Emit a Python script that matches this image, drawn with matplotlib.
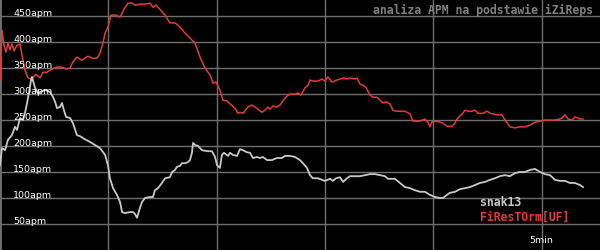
import numpy as np
import matplotlib
matplotlib.use("Agg")
import matplotlib.pyplot as plt

# APM over time (seconds)
red_t = [0, 1.1, 2.2, 3.3, 4.4, 5.5, 6.6, 7.8, 9.4, 11.1, 12.2, 13.8, 15.5, 17.7, 19.9,
         22.2, 23.8, 26.0, 28.8, 31.6, 34.3, 36.6, 38.8, 40.4, 42.6, 45.4, 48.7, 51.0,
         53.7, 55.4, 57.0, 58.2, 59.8, 61.5, 64.2, 66.5, 68.7, 70.9, 73.1, 74.8, 77.5,
         80.3, 83.1, 84.7, 86.4, 88.6, 91.4, 94.1, 96.9, 99.7, 102.5, 105.2, 108.0,
         110.8, 113.5, 116.3, 118.0, 119.6, 121.8, 123.5, 125.7, 127.4, 130.1, 131.8,
         132.9, 134.6, 137.3, 139.6, 141.2, 142.9, 145.1, 146.8, 148.4, 149.5, 151.2,
         153.4, 155.1, 156.7, 158.9, 160.6, 163.4, 165.0, 166.7, 168.9, 170.6, 171.7,
         173.3, 176.1, 178.3, 180.0, 181.6, 183.9, 186.6, 188.3, 190.5, 192.2, 193.8,
         196.6, 197.7, 199.4, 201.0, 202.7, 204.9, 206.6, 208.8, 210.4, 212.1, 213.8,
         216.0, 217.6, 219.3, 221.5, 224.3, 227.1, 228.7, 232.6, 235.4, 237.0, 238.1,
         239.2, 240.9, 243.7, 245.3, 247.5, 250.3, 252.0, 253.1, 254.7, 256.4, 257.5,
         259.2, 261.4, 263.1, 264.7, 267.5, 269.7, 271.4, 273.0, 275.2, 278.0, 279.7,
         282.4, 285.2, 288.0, 290.7, 293.5, 296.3, 299.1, 301.8, 304.6, 307.4, 310.1,
         311.2, 312.9, 314.6, 316.8, 318.4, 320.1, 321.2, 322.9]
red_apm = [327, 423, 394, 381, 398, 385, 396, 383, 394, 396, 375, 346, 331, 329, 338,
           331, 342, 342, 348, 352, 352, 348, 350, 362, 371, 365, 373, 369,
           369, 379, 398, 417, 429, 452, 452, 448, 463, 475, 475, 471, 473,
           473, 475, 467, 471, 463, 452, 437, 437, 429, 417, 408, 398,
           371, 350, 337, 321, 323, 308, 288, 287, 281, 273, 263,
           265, 263, 275, 279, 275, 271, 265, 269, 275, 271, 277,
           275, 279, 287, 296, 300, 300, 302, 298, 312, 317, 327,
           325, 325, 329, 325, 333, 323, 327, 329, 331, 329, 331,
           329, 331, 319, 317, 313, 298, 294, 294, 288, 283, 285,
           281, 269, 267, 267, 267, 262, 248, 248, 252, 246, 237,
           246, 248, 246, 244, 238, 238, 244, 252, 258, 263, 269,
           267, 267, 269, 263, 263, 267, 263, 262, 260, 260, 250,
           237, 235, 237, 237, 240, 246, 248, 250, 250, 250, 252,
           254, 260, 252, 250, 256, 254, 252, 252]

grey_t = [0, 1.1, 2.8, 4.4, 6.6, 8.3, 9.4, 11.1, 12.7, 13.8, 15.0, 16.1, 17.2, 17.7,
          19.4, 21.0, 22.2, 24.9, 27.7, 29.4, 30.5, 31.6, 33.2, 34.3, 35.4, 36.6, 38.8,
          40.4, 42.6, 44.3, 47.1, 49.8, 52.6, 55.4, 58.2, 59.8, 60.9, 62.6, 64.8, 66.5,
          67.6, 69.2, 72.0, 73.7, 74.8, 75.9, 77.5, 78.6, 80.3, 83.1, 84.7, 85.8, 87.5,
          89.7, 91.4, 94.1, 95.3, 96.9, 98.0, 99.7, 100.8, 102.5, 104.1, 105.2, 106.3,
          106.9, 108.0, 109.7, 111.9, 115.2, 117.4, 119.1, 120.2, 121.8, 122.9, 124.0,
          126.3, 127.4, 129.0, 131.3, 132.9, 134.6, 136.8, 138.5, 140.1, 142.3, 144.0,
          145.6, 147.9, 150.6, 153.4, 156.2, 157.8, 160.6, 163.4, 166.1, 167.8, 170.0,
          171.7, 173.3, 176.1, 178.3, 180.0, 182.8, 184.4, 186.1, 188.3, 190.0, 192.2,
          193.8, 199.4, 202.1, 204.9, 207.7, 210.4, 213.2, 214.9, 218.7, 221.5, 224.3,
          227.1, 229.8, 232.6, 235.4, 238.1, 240.9, 243.7, 245.3, 247.5, 249.2, 252.0,
          254.7, 257.5, 260.3, 263.1, 265.8, 268.6, 271.4, 274.1, 276.9, 279.7, 282.4,
          285.2, 288.0, 290.7, 293.5, 296.3, 299.1, 301.8, 304.6, 307.4, 310.1, 312.9,
          315.7, 318.4, 321.2, 322.9]
grey_apm = [163, 196, 192, 212, 221, 237, 231, 254, 250, 263, 283, 304, 327, 333,
            312, 302, 304, 308, 304, 294, 285, 273, 275, 283, 269, 256, 254,
            244, 221, 219, 213, 208, 202, 196, 183, 163, 138, 119, 106, 92,
            73, 71, 73, 73, 69, 62, 81, 92, 100, 102, 102, 115, 119,
            129, 138, 140, 150, 154, 160, 162, 167, 167, 169, 173, 187,
            206, 202, 200, 192, 190, 190, 179, 163, 158, 183, 187,
            181, 187, 183, 181, 194, 192, 188, 187, 177, 179, 177,
            179, 173, 173, 177, 177, 181, 181, 179, 173, 167, 158,
            144, 138, 138, 135, 133, 137, 133, 138, 140, 131, 138,
            142, 142, 144, 146, 146, 144, 142, 137, 137, 129, 121,
            119, 115, 112, 112, 106, 102, 100, 100, 106, 110, 112,
            117, 119, 121, 125, 129, 131, 135, 138, 142, 144, 142,
            148, 150, 150, 154, 156, 150, 146, 144, 135, 133, 133,
            129, 129, 125, 121]

y_ticks = [50, 100, 150, 200, 250, 300, 350, 400, 450]
x_grid = [60, 120, 180, 240, 300]
players = ["snak13", "FiResTOrm[UF]"]

red = "#e03c3c"
light = "#c8c8c8"
gridc = "#707070"

fig = plt.figure(figsize=(6, 2.5), dpi=100, facecolor="black")
ax = fig.add_axes([0, 0, 1, 1], facecolor="black")
ax.set_xlim(0, 332.3)
ax.set_ylim(0, 481)

for v in y_ticks:
    ax.axhline(v, color=gridc, lw=1.0, zorder=1)
for t in x_grid:
    ax.axvline(t, color=gridc, lw=1.0, zorder=1)
ax.axvline(0, color=gridc, lw=2.0, zorder=1)

ax.plot(red_t, red_apm, color=red, lw=1.1, zorder=3)
ax.plot(grey_t, grey_apm, color=light, lw=1.3, zorder=4)

for v in y_ticks:
    ax.text(0.022, v, f"{v}apm", transform=ax.get_yaxis_transform(),
            color="white", fontsize=6.8, va="baseline", ha="left", zorder=5)

ax.text(300, 13, "5min", color="white", fontsize=6.8, ha="center", va="baseline")

mono = dict(family="DejaVu Sans Mono", fontweight="bold", fontsize=8.3)
ax.text(0.988, 0.944, "analiza APM na podstawie iZiReps", transform=ax.transAxes,
        color="#808080", ha="right", va="baseline", **mono)
ax.text(0.8, 0.176, players[0], transform=ax.transAxes, color=light,
        ha="left", va="baseline", **mono)
ax.text(0.8, 0.116, players[1], transform=ax.transAxes, color=red,
        ha="left", va="baseline", **mono)

ax.set_axis_off()
fig.savefig("out.png", dpi=100, facecolor="black")
